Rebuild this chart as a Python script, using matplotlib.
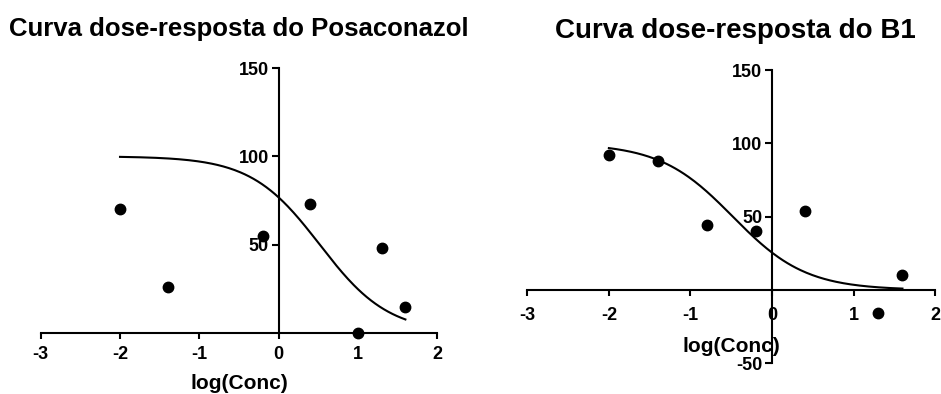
import numpy as np
import matplotlib
matplotlib.use("Agg")
import matplotlib.pyplot as plt

plt.rcParams['font.family'] = ['Liberation Sans', 'DejaVu Sans']
plt.rcParams['font.weight'] = 'bold'
plt.rcParams['axes.unicode_minus'] = False

# log(concentration) and response for each compound
x_poso = [-2.0, -1.4, -0.2, 0.4, 1.0, 1.3, 1.6]
y_poso = [70, 26, 55, 73, 0, 48, 15]

x_b1 = [-2.0, -1.4, -0.8, -0.2, 0.4, 1.3, 1.6]
y_b1 = [92, 88, 44, 40, 54, -16, 10]

# fitted sigmoid parameters (top, bottom, logEC50, hill slope)
fit_poso = (100, 0, 0.52, 1.0)
fit_b1 = (100, 0, -0.48, 0.97)

xticks = [-3, -2, -1, 0, 1, 2]
yticks_poso = [50, 100, 150]
yticks_b1 = [-50, 50, 100, 150]


def dose_response(x, top, bottom, logec50, hill):
    return bottom + (top - bottom) / (1 + 10 ** ((x - logec50) * hill))


def draw_panel(ax, x, y, fit, ylim, yticks, xpad):
    xx = np.linspace(min(x), max(x), 200)
    ax.plot(xx, dose_response(xx, *fit), color='black', lw=1.5)
    # dots sit under the tick labels
    ax.plot(x, y, 'o', color='black', ms=7.5, clip_on=False, zorder=2.2)

    ax.set_xlim(-3, 2)
    ax.set_ylim(*ylim)
    ax.set_xticks(xticks)
    ax.set_yticks(yticks)

    for s in ['top', 'right']:
        ax.spines[s].set_visible(False)
    ax.spines['left'].set_position(('data', 0))
    ax.spines['bottom'].set_position(('data', 0))
    for s in ['left', 'bottom']:
        ax.spines[s].set_linewidth(1.5)
    ax.tick_params(axis='both', width=1.5, labelsize=13)
    ax.tick_params(axis='x', length=4, pad=xpad)
    ax.tick_params(axis='y', length=5, pad=2)
    ax.patch.set_visible(False)


fig = plt.figure(figsize=(9.41, 3.94), dpi=100)

ax1 = fig.add_axes([0.0433, 0.1548, 0.4212, 0.6726])
draw_panel(ax1, x_poso, y_poso, fit_poso, (0, 150), yticks_poso, 5)
ax1.text(0.5, -0.189, 'log(Conc)', transform=ax1.transAxes,
         ha='center', va='center', fontsize=15, fontweight='bold')

ax2 = fig.add_axes([0.5604, 0.0779, 0.4333, 0.7444])
draw_panel(ax2, x_b1, y_b1, fit_b1, (-50, 150), yticks_b1, 8)
ax2.text(0.5, 0.056, 'log(Conc)', transform=ax2.transAxes,
         ha='center', va='center', fontsize=15, fontweight='bold')

fig.text(239 / 941, 0.9086, 'Curva dose-resposta do Posaconazol',
         ha='center', va='baseline', fontsize=18.5, fontweight='bold')
fig.text(735 / 941, 0.9036, 'Curva dose-resposta do B1',
         ha='center', va='baseline', fontsize=20, fontweight='bold')

fig.savefig('out.png', dpi=100)
